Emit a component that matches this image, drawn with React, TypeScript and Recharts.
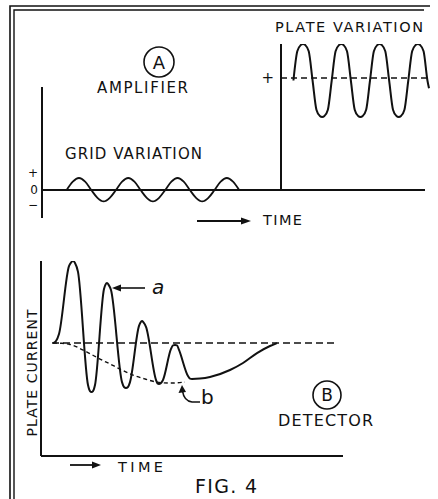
import React from "react";
import { ComposedChart, Line, XAxis, YAxis, ReferenceLine } from "recharts";

// ---------- Panel A: grid variation ----------
const gridT = [0.5, 0.625, 0.75, 0.875, 1.0, 1.125, 1.25, 1.375, 1.5, 1.625, 1.75, 1.875, 2.0, 2.125, 2.25, 2.375, 2.5, 2.625, 2.75, 2.875, 3.0, 3.125, 3.25, 3.375, 3.5, 3.625, 3.75, 3.875, 4.0];
const gridV = [0, 0.7, 1, 0.7, 0, -0.65, -0.95, -0.65, 0, 0.7, 1, 0.7, 0, -0.65, -0.95, -0.65, 0, 0.7, 1, 0.7, 0, -0.65, -0.95, -0.65, 0, 0.7, 1, 0.7, 0];
const gridTicks = [1.4, 0, -1.2];
const gridTickLabels = ["+", "0", "\u2212"];

// ---------- Panel A: plate variation ----------
const plateT = [5.102, 5.18, 5.249, 5.296, 5.343, 5.412, 5.49, 5.568, 5.637, 5.684, 5.731, 5.8, 5.878, 5.956, 6.025, 6.072, 6.119, 6.188, 6.266, 6.344, 6.413, 6.46, 6.507, 6.576, 6.654, 6.732, 6.801, 6.848, 6.895, 6.964, 7.042, 7.12, 7.189, 7.236, 7.283, 7.352, 7.43, 7.508, 7.577, 7.624, 7.671, 7.74, 7.818, 7.85];
const plateV = [9.15, 11.59, 12.11, 12.2, 12.11, 11.59, 9.15, 6.71, 6.19, 6.1, 6.19, 6.71, 9.15, 11.59, 12.11, 12.2, 12.11, 11.59, 9.15, 6.71, 6.19, 6.1, 6.19, 6.71, 9.15, 11.59, 12.11, 12.2, 12.11, 11.59, 9.15, 6.71, 6.19, 6.1, 6.19, 6.71, 9.15, 11.59, 12.11, 12.2, 12.11, 11.59, 9.15, 8.5];
const plateMean = 9.35;
const plateTicks = [plateMean];
const plateTickLabels = ["+"];

// ---------- Panel B: detector plate current ----------
const detT = [1.2, 1.5, 1.8, 2.8, 3.0, 3.2, 3.4, 3.7, 4.7, 4.9, 5.05, 5.2, 5.4, 6.3, 6.45, 6.6, 6.75, 7.0, 8.1, 8.3, 8.5, 8.7, 8.9, 9.8, 9.95, 10.1, 10.25, 10.5, 11.5, 11.65, 11.8, 11.95, 12.2, 13.0, 13.2, 13.4, 13.6, 13.8, 14.7, 14.9, 15.1, 15.9, 16.9, 18.9, 20.2, 21.6, 22.9, 23.6];
const detV = [5.79, 5.9, 6.26, 9.74, 9.92, 10.0, 9.9, 9.44, 3.64, 3.33, 3.28, 3.33, 3.64, 8.56, 8.79, 8.87, 8.79, 8.51, 3.79, 3.54, 3.49, 3.54, 3.79, 6.67, 6.85, 6.92, 6.85, 6.62, 3.9, 3.72, 3.69, 3.72, 3.9, 5.49, 5.67, 5.69, 5.67, 5.44, 4.1, 3.97, 3.95, 3.97, 4.05, 4.41, 4.77, 5.28, 5.64, 5.79];
const envT = [1.2, 2.1, 2.9, 4.6, 5.9, 6.9, 7.9, 9.2, 10.4, 11.6, 12.9, 14.4];
const envV = [5.79, 5.78, 5.72, 5.33, 4.97, 4.72, 4.46, 4.15, 3.95, 3.79, 3.74, 3.79];
const detBaseline = 5.8;
const detBaselineSpan = [1.1, 29.6];

const gridData = gridT.map((t, i) => ({ t, v: gridV[i] }));
const plateData = plateT.map((t, i) => ({ t, v: plateV[i] }));
const detData = detT.map((t, i) => ({ t, v: detV[i] }));
const envData = envT.map((t, i) => ({ t, v: envV[i] }));

const INK = "#111";
const FONT = "'DejaVu Sans', 'Liberation Sans', sans-serif";

const abs: React.CSSProperties = { position: "absolute", left: 0, top: 0 };

function Caption({ x, y, w, size, children }: { x: number; y: number; w: number; size: number; children: string }) {
  return (
    <text x={x} y={y} dominantBaseline="central" textLength={w} lengthAdjust="spacing" fontSize={size} fontFamily={FONT} fill={INK}>
      {children}
    </text>
  );
}

function Decorations() {
  return (
    <g>
      {/* border */}
      <path d="M10 499 V6 H430" fill="none" stroke={INK} strokeWidth={1.6} />
      <path d="M14 499 V10 H424" fill="none" stroke={INK} strokeWidth={1.4} />

      {/* Panel A labels */}
      <circle cx={159} cy={62} r={15} fill="none" stroke={INK} strokeWidth={1.6} />
      <text x={159} y={62} dominantBaseline="central" textAnchor="middle" fontSize={18} fontFamily={FONT} fill={INK}>A</text>
      <Caption x={97} y={87.5} w={91} size={15}>AMPLIFIER</Caption>
      <Caption x={65} y={154} w={137} size={15}>GRID VARIATION</Caption>
      <Caption x={275} y={27} w={148} size={14.5}>PLATE VARIATION</Caption>
      <path d="M197 221 H243" stroke={INK} strokeWidth={1.8} />
      <polygon points="251,221 241,217.5 241,224.5" fill={INK} />
      <Caption x={263} y={220} w={39} size={14.5}>TIME</Caption>

      {/* Panel B labels */}
      <text transform="translate(32,373) rotate(-90)" x={0} y={0} dominantBaseline="central" textAnchor="middle" textLength={127} lengthAdjust="spacing" fontSize={14} fontFamily={FONT} fill={INK}>PLATE CURRENT</text>
      <path d="M145 288 H119" stroke={INK} strokeWidth={1.6} />
      <polygon points="112,288 121,284.5 121,291.5" fill={INK} />
      <text x={152} y={287} dominantBaseline="central" fontSize={20} fontStyle="italic" fontFamily="'DejaVu Sans', sans-serif" fill={INK}>a</text>
      <path d="M200 402 H192 Q184 401 182.5 391" fill="none" stroke={INK} strokeWidth={1.6} />
      <polygon points="182,385 178.5,393 186,392" fill={INK} />
      <text x={201} y={397} dominantBaseline="central" fontSize={20} fontFamily="'DejaVu Sans', sans-serif" fill={INK}>b</text>
      <circle cx={327} cy={395} r={14} fill="none" stroke={INK} strokeWidth={1.6} />
      <text x={327} y={395} dominantBaseline="central" textAnchor="middle" fontSize={17} fontFamily={FONT} fill={INK}>B</text>
      <Caption x={278} y={420} w={95} size={16}>DETECTOR</Caption>
      <path d="M70 465 H94" stroke={INK} strokeWidth={1.8} />
      <polygon points="101,465 92,461.5 92,468.5" fill={INK} />
      <Caption x={118} y={467} w={45} size={14.5}>TIME</Caption>
      <Caption x={195} y={486} w={62} size={19}>FIG. 4</Caption>
    </g>
  );
}

export default function App() {
  return (
    <div style={{ position: "absolute", left: 0, top: 0, width: 438, height: 499, background: "#fff" }}>
      {/* Grid variation */}
      <div style={abs}>
        <ComposedChart width={438} height={499} margin={{ top: 87, right: 13, bottom: 281, left: 0 }}>
          <XAxis type="number" dataKey="t" domain={[0, 7.77]} hide allowDataOverflow />
          <YAxis
            type="number"
            domain={[-2.33, 8.58]}
            allowDataOverflow
            width={42}
            ticks={gridTicks}
            interval={0}
            tickFormatter={(v: number) => gridTickLabels[gridTicks.indexOf(v)] ?? ""}
            tickSize={0}
            tickMargin={4}
            tickLine={false}
            axisLine={{ stroke: INK, strokeWidth: 2 }}
            tick={{ fill: INK, fontSize: 12, fontFamily: FONT }}
          />
          <ReferenceLine y={0} stroke={INK} strokeWidth={2} />
          <Line data={gridData} dataKey="v" type="monotone" stroke={INK} strokeWidth={1.8} dot={false} isAnimationActive={false} />
        </ComposedChart>
      </div>

      {/* Plate variation */}
      <div style={abs}>
        <ComposedChart width={438} height={499} margin={{ top: 44, right: 8, bottom: 309, left: 262 }}>
          <XAxis type="number" dataKey="t" domain={[4.85, 7.87]} hide allowDataOverflow />
          <YAxis
            type="number"
            domain={[0, 12.2]}
            allowDataOverflow
            width={19}
            ticks={plateTicks}
            interval={0}
            tickFormatter={(v: number) => plateTickLabels[plateTicks.indexOf(v)] ?? ""}
            tickSize={0}
            tickMargin={7}
            tickLine={false}
            axisLine={{ stroke: INK, strokeWidth: 2 }}
            tick={{ fill: INK, fontSize: 15, fontFamily: FONT }}
          />
          <ReferenceLine y={plateMean} stroke={INK} strokeWidth={1.5} strokeDasharray="6 4" />
          <Line data={plateData} dataKey="v" type="monotone" stroke={INK} strokeWidth={2} dot={false} isAnimationActive={false} />
        </ComposedChart>
      </div>

      {/* Detector */}
      <div style={abs}>
        <ComposedChart width={438} height={499} margin={{ top: 261, right: 95, bottom: 13, left: 0 }}>
          <XAxis type="number" dataKey="t" domain={[0, 30.2]} allowDataOverflow height={30} tick={false} tickLine={false} axisLine={{ stroke: INK, strokeWidth: 2 }} />
          <YAxis type="number" domain={[0, 10]} allowDataOverflow width={41} tick={false} tickLine={false} axisLine={{ stroke: INK, strokeWidth: 2 }} />
          <ReferenceLine
            segment={[{ x: detBaselineSpan[0], y: detBaseline }, { x: detBaselineSpan[1], y: detBaseline }]}
            stroke={INK}
            strokeWidth={1.5}
            strokeDasharray="7 4"
          />
          <Line data={envData} dataKey="v" type="monotone" stroke={INK} strokeWidth={1.4} strokeDasharray="4 3" dot={false} isAnimationActive={false} />
          <Line data={detData} dataKey="v" type="monotone" stroke={INK} strokeWidth={2} dot={false} isAnimationActive={false} />
          <Decorations />
        </ComposedChart>
      </div>
    </div>
  );
}
